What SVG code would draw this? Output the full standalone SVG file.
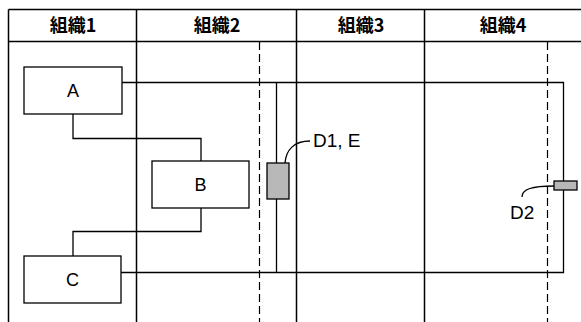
<svg xmlns="http://www.w3.org/2000/svg" width="581" height="322" viewBox="0 0 581 322">
<style>
.grid{stroke:#000;stroke-width:1.5;fill:none}
.dash{stroke:#000;stroke-width:1.2;fill:none;stroke-dasharray:8,4}
.box{fill:#fff;stroke:#000;stroke-width:1.3}
.conn{stroke:#000;stroke-width:1.3;fill:none}
.hdr{font-family:"Noto Sans CJK JP","Noto Sans",sans-serif;font-size:18px;font-weight:bold;text-anchor:middle;fill:#000}
.lbl{font-family:"Liberation Sans",Arial,sans-serif;font-size:18px;text-anchor:middle;fill:#000}
.tag{font-family:"Liberation Sans",Arial,sans-serif;font-size:19px;fill:#000}
.dat{fill:#b8b8b8;stroke:#000;stroke-width:1.3}
</style>
<rect width="581" height="322" fill="#fff"/>
<g id="table">
<line class="grid" x1="8.5" y1="9.5" x2="581" y2="9.5"/>
<line class="grid" x1="8.5" y1="41.5" x2="581" y2="41.5"/>
<line class="grid" x1="8.5" y1="9.5" x2="8.5" y2="322"/>
<line class="grid" x1="136.5" y1="9.5" x2="136.5" y2="322"/>
<line class="grid" x1="296.5" y1="9.5" x2="296.5" y2="322"/>
<line class="grid" x1="424.5" y1="9.5" x2="424.5" y2="322"/>
<line class="dash" x1="259.5" y1="42" x2="259.5" y2="322"/>
<line class="dash" x1="547.5" y1="42" x2="547.5" y2="322"/>
<text class="hdr" x="73" y="32">組織1</text>
<text class="hdr" x="217" y="32">組織2</text>
<text class="hdr" x="361" y="32">組織3</text>
<text class="hdr" x="503" y="32">組織4</text>
</g>
<g id="connectors">
<polyline class="conn" points="122,82.5 563.5,82.5 563.5,272.5 121,272.5"/>
<line class="conn" x1="276.5" y1="82.5" x2="276.5" y2="272.5"/>
<polyline class="conn" points="73,114 73,138.5 201,138.5 201,161"/>
<polyline class="conn" points="201,208 201,231.5 73,231.5 73,256"/>
<path class="conn" d="M285,163 C286,150 294,141 310,141"/>
<path class="conn" d="M522,197 C522,189 532,186 554,186"/>
</g>
<g id="A"><rect class="box" x="24" y="67" width="98" height="47"/><text class="lbl" x="73" y="97">A</text></g>
<g id="B"><rect class="box" x="152" y="161" width="97" height="47"/><text class="lbl" x="200.5" y="191">B</text></g>
<g id="C"><rect class="box" x="24" y="256" width="97" height="47"/><text class="lbl" x="72.5" y="286">C</text></g>
<g id="D1"><rect class="dat" x="267" y="163" width="22" height="36"/><text class="tag" x="313" y="146.5">D1, E</text></g>
<g id="D2"><rect class="dat" x="554" y="181" width="23" height="9"/><text class="tag" x="510" y="219">D2</text></g>
</svg>
